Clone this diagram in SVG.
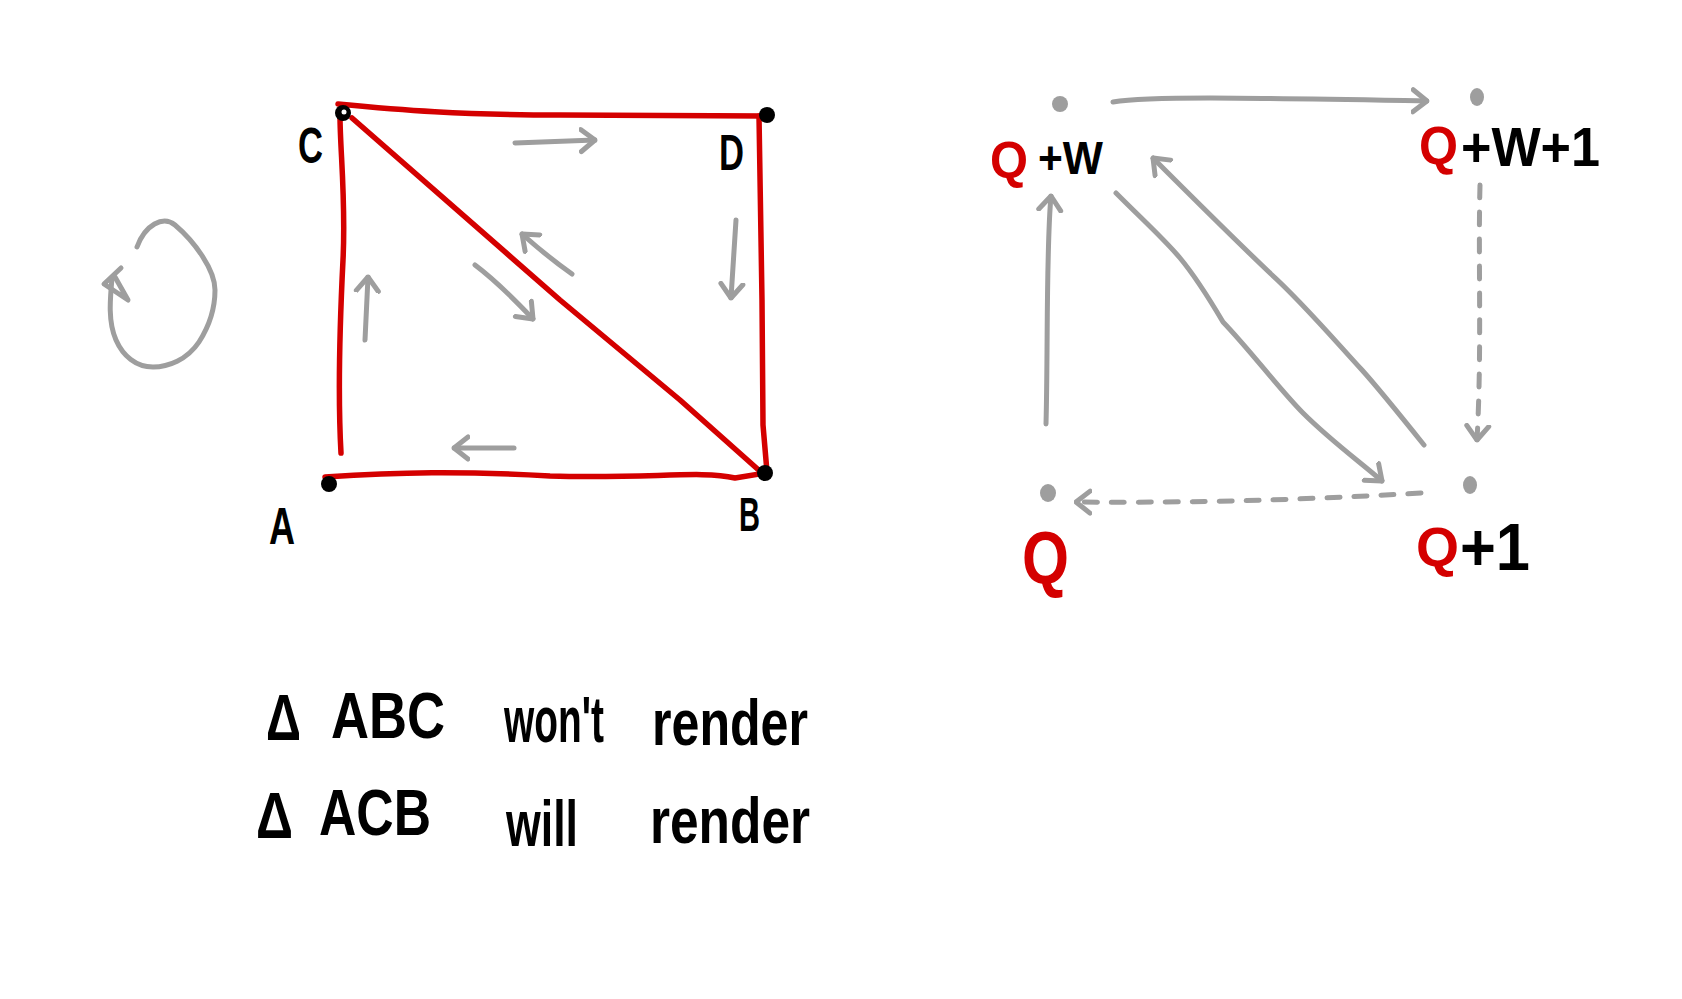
<svg xmlns="http://www.w3.org/2000/svg" width="1682" height="999" viewBox="0 0 1682 999">
<defs>
<style>
.red{fill:none;stroke:#d40000;stroke-width:5.5;stroke-linecap:round;stroke-linejoin:round}
.gr{fill:none;stroke:#9e9e9e;stroke-width:5;stroke-linecap:round;stroke-linejoin:round}
.dash{stroke-dasharray:13 14}
.lbl{font-family:"Liberation Sans",Arial,sans-serif;fill:#000;font-weight:bold}
.rq{font-family:"Liberation Sans",Arial,sans-serif;fill:#d40000;font-weight:bold}
.hw{font-family:"Liberation Sans",Arial,sans-serif;fill:#000;font-size:64px;font-weight:bold}
</style>
<marker id="ah" viewBox="-16 -14 18 28" refX="0" refY="0" markerWidth="18" markerHeight="28" markerUnits="userSpaceOnUse" orient="auto">
<path d="M-14,-11 L0,0 L-14,11" fill="none" stroke="#9e9e9e" stroke-width="5" stroke-linecap="round" stroke-linejoin="round"/>
</marker>
</defs>
<rect width="1682" height="999" fill="#fff"/>
<g id="connectors">
<path class="red" d="M338,104 C400,110 460,115 560,115 L767,116"/>
<path class="red" d="M341,453 C338,400 340,320 343,260 C346,200 340,150 340,116"/>
<path class="red" d="M325,477 C400,472 460,471 550,476 C650,479 700,470 735,478 L765,473"/>
<path class="red" d="M759,116 L762,300 L763,425 L767,472"/>
<path class="red" d="M352,118 L560,300 L680,400 L762,473"/>
<path class="gr" marker-end="url(#ah)" d="M515,143 L595,140"/>
<path class="gr" marker-end="url(#ah)" d="M736,220 L731,298"/>
<path class="gr" marker-end="url(#ah)" d="M475,265 C495,280 515,300 533,319"/>
<path class="gr" marker-end="url(#ah)" d="M572,274 C555,262 540,250 522,234"/>
<path class="gr" marker-end="url(#ah)" d="M365,340 L368,277"/>
<path class="gr" marker-end="url(#ah)" d="M514,448 L454,448"/>
<path class="gr" d="M137,247 C145,225 163,215 175,225 C195,242 215,270 215,290 C215,310 208,328 199,342 C187,360 168,367 153,367 C136,367 123,356 116,340 C108,322 110,300 112,278"/>
<path class="gr" d="M121,268 L104,284 L128,300 L115,277"/>
<path class="gr" marker-end="url(#ah)" d="M1113,102 C1150,96 1250,98 1427,101"/>
<path class="gr" marker-end="url(#ah)" d="M1046,424 C1048,350 1046,250 1051,196"/>
<path class="gr" marker-end="url(#ah)" d="M1116,193 C1145,222 1165,240 1180,258 C1195,276 1210,300 1223,322 C1250,350 1280,390 1303,413 C1330,440 1360,462 1382,481"/>
<path class="gr" marker-end="url(#ah)" d="M1424,445 C1400,415 1380,390 1362,370 C1330,335 1300,300 1271,274 C1230,235 1190,195 1153,158"/>
<path class="gr dash" marker-end="url(#ah)" d="M1480,185 C1478,260 1482,350 1477,440"/>
<path class="gr dash" marker-end="url(#ah)" d="M1421,493 C1300,500 1200,503 1076,502"/>
</g>
<g id="node-C">
<circle cx="343" cy="113" r="8" fill="#000"/><circle cx="344" cy="112" r="2.5" fill="#fff"/>
<text class="lbl" x="298" y="163" font-size="50" textLength="25" lengthAdjust="spacingAndGlyphs">C</text>
</g>
<g id="node-D">
<circle cx="767" cy="115" r="8" fill="#000"/>
<text class="lbl" x="719" y="170" font-size="50" textLength="25" lengthAdjust="spacingAndGlyphs">D</text>
</g>
<g id="node-A">
<circle cx="329" cy="484" r="8" fill="#000"/>
<text class="lbl" x="269" y="544" font-size="52" textLength="26" lengthAdjust="spacingAndGlyphs">A</text>
</g>
<g id="node-B">
<circle cx="765" cy="473" r="8" fill="#000"/>
<text class="lbl" x="739" y="531" font-size="48" textLength="21" lengthAdjust="spacingAndGlyphs">B</text>
</g>
<g id="node-QW">
<ellipse cx="1060" cy="104" rx="8" ry="8" fill="#9e9e9e"/>
<text class="rq" x="990" y="178" font-size="52" textLength="38" lengthAdjust="spacingAndGlyphs">Q</text>
<text class="lbl" x="1038" y="174" font-size="46" textLength="65" lengthAdjust="spacingAndGlyphs">+W</text>
</g>
<g id="node-QW1">
<ellipse cx="1477" cy="97" rx="7" ry="9" fill="#9e9e9e"/>
<text class="rq" x="1419" y="164" font-size="54" textLength="39" lengthAdjust="spacingAndGlyphs">Q</text>
<text class="lbl" x="1461" y="166" font-size="56" textLength="139" lengthAdjust="spacingAndGlyphs">+W+1</text>
</g>
<g id="node-Q">
<ellipse cx="1048" cy="493" rx="8" ry="9" fill="#9e9e9e"/>
<text class="rq" x="1022" y="583" font-size="74" textLength="47" lengthAdjust="spacingAndGlyphs">Q</text>
</g>
<g id="node-Q1">
<ellipse cx="1470" cy="485" rx="7" ry="9" fill="#9e9e9e"/>
<text class="rq" x="1416" y="566" font-size="56" textLength="43" lengthAdjust="spacingAndGlyphs">Q</text>
<text class="lbl" x="1460" y="570" font-size="66" textLength="70" lengthAdjust="spacingAndGlyphs">+1</text>
</g>
<g id="caption">
<text class="hw" x="266" y="740" textLength="35" lengthAdjust="spacingAndGlyphs">Δ</text>
<text class="hw" x="331" y="738" textLength="114" lengthAdjust="spacingAndGlyphs">ABC</text>
<text class="hw" x="504" y="742" textLength="100" lengthAdjust="spacingAndGlyphs">won't</text>
<text class="hw" x="652" y="745" textLength="156" lengthAdjust="spacingAndGlyphs">render</text>
<text class="hw" x="256" y="838" textLength="37" lengthAdjust="spacingAndGlyphs">Δ</text>
<text class="hw" x="319" y="835" textLength="112" lengthAdjust="spacingAndGlyphs">ACB</text>
<text class="hw" x="506" y="846" font-size="74" textLength="72" lengthAdjust="spacingAndGlyphs">will</text>
<text class="hw" x="650" y="843" textLength="160" lengthAdjust="spacingAndGlyphs">render</text>
</g>
</svg>
